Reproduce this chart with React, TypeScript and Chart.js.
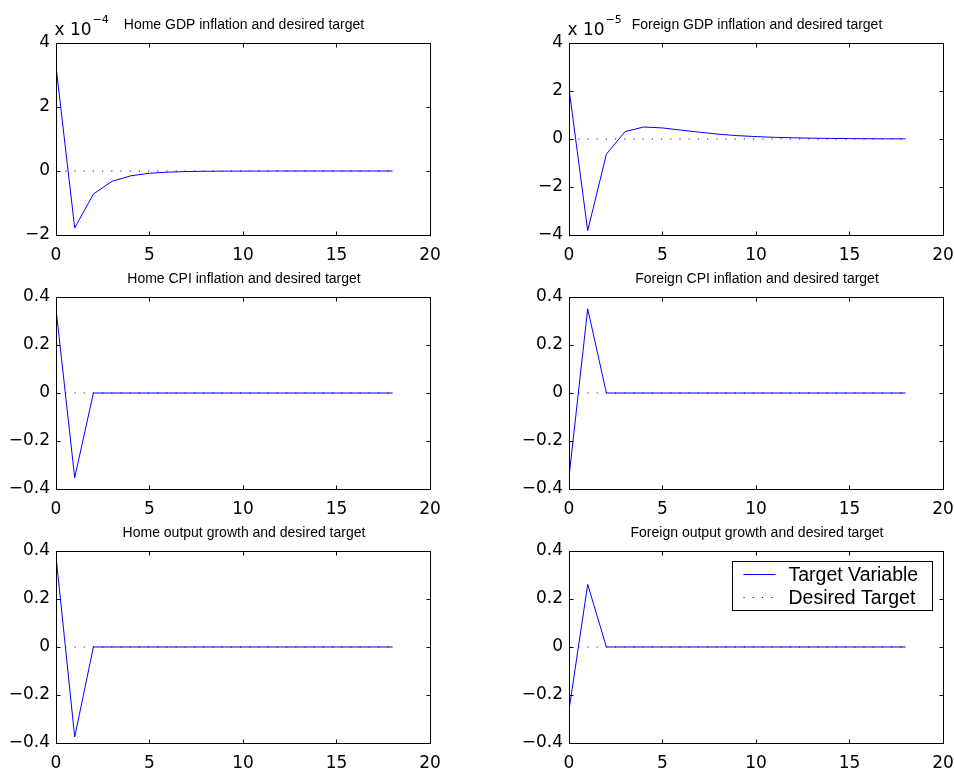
import React, { useEffect, useRef } from "react";
import { Chart, registerables } from "chart.js";

Chart.register(...registerables);

// ---------- data ----------
const periods = [0, 1, 2, 3, 4, 5, 6, 7, 8, 9, 10, 11, 12, 13, 14, 15, 16, 17, 18];
const desiredTarget = [0, 0, 0, 0, 0, 0, 0, 0, 0, 0, 0, 0, 0, 0, 0, 0, 0, 0, 0];

const homeGdpInflation = [
  3.27e-4, -1.78e-4, -0.72e-4, -0.32e-4, -0.15e-4, -0.07e-4, -0.035e-4, -0.017e-4, -0.008e-4,
  -0.004e-4, -0.002e-4, -0.001e-4, 0, 0, 0, 0, 0, 0, 0,
];
const foreignGdpInflation = [
  2.1e-5, -3.82e-5, -0.63e-5, 0.31e-5, 0.5e-5, 0.46e-5, 0.37e-5, 0.28e-5, 0.2e-5, 0.14e-5,
  0.1e-5, 0.07e-5, 0.05e-5, 0.035e-5, 0.025e-5, 0.017e-5, 0.012e-5, 0.008e-5, 0.005e-5,
];
const homeCpiInflation = [0.35, -0.353, 0, 0, 0, 0, 0, 0, 0, 0, 0, 0, 0, 0, 0, 0, 0, 0, 0];
const foreignCpiInflation = [-0.35, 0.351, 0, 0, 0, 0, 0, 0, 0, 0, 0, 0, 0, 0, 0, 0, 0, 0, 0];
const homeOutputGrowth = [0.378, -0.375, 0, 0, 0, 0, 0, 0, 0, 0, 0, 0, 0, 0, 0, 0, 0, 0, 0];
const foreignOutputGrowth = [-0.263, 0.261, 0, 0, 0, 0, 0, 0, 0, 0, 0, 0, 0, 0, 0, 0, 0, 0, 0];

const xTicks = [0, 5, 10, 15, 20];
const homeGdpTicks = [-2e-4, 0, 2e-4, 4e-4];
const foreignGdpTicks = [-4e-5, -2e-5, 0, 2e-5, 4e-5];
const unitTicks = [-0.4, -0.2, 0, 0.2, 0.4];

const seriesLabels = ["Target Variable", "Desired Target"];

// ---------- layout ----------
const W = 954;
const H = 769;
const colLeft = [56, 569];
const colRight = [430, 943];
const rowTop = [43, 297, 551];
const rowBottom = [235, 489, 743];

type Panel = {
  title: string;
  values: number[];
  ticks: number[];
  exp: number | null;
  col: number;
  row: number;
  legend: boolean;
};

const panels: Panel[] = [
  { title: "Home GDP inflation and desired target", values: homeGdpInflation, ticks: homeGdpTicks, exp: -4, col: 0, row: 0, legend: false },
  { title: "Foreign GDP inflation and desired target", values: foreignGdpInflation, ticks: foreignGdpTicks, exp: -5, col: 1, row: 0, legend: false },
  { title: "Home CPI inflation and desired target", values: homeCpiInflation, ticks: unitTicks, exp: null, col: 0, row: 1, legend: false },
  { title: "Foreign CPI inflation and desired target", values: foreignCpiInflation, ticks: unitTicks, exp: null, col: 1, row: 1, legend: false },
  { title: "Home output growth and desired target", values: homeOutputGrowth, ticks: unitTicks, exp: null, col: 0, row: 2, legend: false },
  { title: "Foreign output growth and desired target", values: foreignOutputGrowth, ticks: unitTicks, exp: null, col: 1, row: 2, legend: true },
];

const TICK_FONT = "DejaVu Sans";
const TEXT_FONT = "Liberation Sans";
const MINUS = "\u2212";

function fmtY(v: number, exp: number | null): string {
  if (exp !== null) {
    const n = Math.round(v / Math.pow(10, exp));
    return n < 0 ? MINUS + Math.abs(n) : String(n);
  }
  if (Math.abs(v) < 1e-12) return "0";
  const s = Math.abs(v).toFixed(1);
  return v < 0 ? MINUS + s : s;
}

function fmtX(v: number): string {
  return String(Math.round(v));
}

const matlabPlugin = {
  id: "matlabAxes",
  afterDatasetsDraw(chart: any, _args: any, opts: any) {
    const ctx: CanvasRenderingContext2D = chart.ctx;
    const a = chart.chartArea;
    const xs = chart.scales.x;
    const ys = chart.scales.y;
    const L = Math.floor(a.left) + 0.5;
    const R = Math.floor(a.right) + 0.5;
    const T = Math.floor(a.top) + 0.5;
    const B = Math.floor(a.bottom) + 0.5;
    ctx.save();
    ctx.strokeStyle = "#000";
    ctx.lineWidth = 1;
    ctx.setLineDash([]);
    ctx.strokeRect(L, T, R - L, B - T);
    const tl = 4;
    ctx.beginPath();
    for (const t of xs.ticks) {
      const px = Math.floor(xs.getPixelForValue(t.value)) + 0.5;
      ctx.moveTo(px, B);
      ctx.lineTo(px, B - tl);
      ctx.moveTo(px, T);
      ctx.lineTo(px, T + tl);
    }
    for (const t of ys.ticks) {
      const py = Math.floor(ys.getPixelForValue(t.value)) + 0.5;
      ctx.moveTo(L, py);
      ctx.lineTo(L + tl, py);
      ctx.moveTo(R, py);
      ctx.lineTo(R - tl, py);
    }
    ctx.stroke();

    // title
    ctx.fillStyle = "#000";
    ctx.font = `14px "${TEXT_FONT}"`;
    ctx.textAlign = "center";
    ctx.textBaseline = "alphabetic";
    ctx.fillText(opts.title, (a.left + a.right) / 2 + 1, a.top - 14);

    // exponent label
    if (opts.exp !== null && opts.exp !== undefined) {
      ctx.textAlign = "left";
      ctx.font = `17px "${TICK_FONT}"`;
      const base = "x 10";
      ctx.fillText(base, a.left - 1.5, a.top - 8);
      const w = ctx.measureText(base).width;
      ctx.font = `11px "${TICK_FONT}"`;
      const e = opts.exp < 0 ? MINUS + Math.abs(opts.exp) : String(opts.exp);
      ctx.fillText(e, a.left - 1.5 + w + 1, a.top - 20);
    }

    // legend
    if (opts.legend) {
      const bw = 200;
      const bh = 49;
      const bx = Math.floor(a.right - 10.5 - bw) + 0.5;
      const by = Math.floor(a.top + 10) + 0.5;
      ctx.fillStyle = "#fff";
      ctx.fillRect(bx, by, bw, bh);
      ctx.strokeStyle = "#000";
      ctx.strokeRect(bx, by, bw, bh);
      const rows = chart.data.datasets.map((ds: any, i: number) => ({
        label: ds.label,
        color: ds.borderColor,
        dash: ds.borderDash || [],
        y: by + 13 + i * 23,
      }));
      for (const r of rows) {
        ctx.beginPath();
        ctx.strokeStyle = r.color;
        ctx.setLineDash(r.dash);
        ctx.moveTo(bx + 11, Math.floor(r.y) + 0.5);
        ctx.lineTo(bx + 43, Math.floor(r.y) + 0.5);
        ctx.stroke();
        ctx.setLineDash([]);
        ctx.fillStyle = "#000";
        ctx.font = `19.5px "${TEXT_FONT}"`;
        ctx.textAlign = "left";
        ctx.textBaseline = "alphabetic";
        ctx.fillText(r.label, bx + 56, r.y + 6.7);
      }
    }
    ctx.restore();
  },
};

function makeChart(canvas: HTMLCanvasElement, p: Panel) {
  const left = colLeft[p.col];
  const right = colRight[p.col];
  const top = rowTop[p.row];
  const bottom = rowBottom[p.row];
  const yMin = p.ticks[0];
  const yMax = p.ticks[p.ticks.length - 1];
  return new Chart(canvas, {
    type: "line",
    data: {
      datasets: [
        {
          label: seriesLabels[0],
          data: periods.map((x, i) => ({ x, y: p.values[i] })),
          borderColor: "#0000ff",
          borderWidth: 1,
          pointRadius: 0,
          fill: false,
          tension: 0,
        },
        {
          label: seriesLabels[1],
          data: periods.map((x, i) => ({ x, y: desiredTarget[i] })),
          borderColor: "#0000ff",
          borderWidth: 1.2,
          borderDash: [1.2, 8],
          pointRadius: 0,
          fill: false,
          tension: 0,
        },
      ],
    },
    options: {
      responsive: false,
      animation: false,
      devicePixelRatio: 1,
      events: [],
      layout: { padding: { left: 0, top: top, right: W - right, bottom: 0 } },
      plugins: {
        legend: { display: false },
        tooltip: { enabled: false },
        title: { display: false },
        matlabAxes: { title: p.title, exp: p.exp, legend: p.legend },
      } as any,
      scales: {
        x: {
          type: "linear",
          min: 0,
          max: 20,
          grid: { display: false, drawTicks: false },
          border: { display: false },
          ticks: {
            padding: 10,
            color: "#000",
            font: { family: TICK_FONT, size: 17 },
            maxRotation: 0,
            callback: (v: any) => fmtX(Number(v)),
          },
          afterBuildTicks: (s: any) => {
            s.ticks = xTicks.map((v) => ({ value: v }));
          },
          afterFit: (s: any) => {
            s.height = H - bottom;
            s.paddingLeft = 0;
            s.paddingRight = 0;
          },
        },
        y: {
          type: "linear",
          min: yMin,
          max: yMax,
          grid: { display: false, drawTicks: false },
          border: { display: false },
          ticks: {
            padding: 6,
            color: "#000",
            font: { family: TICK_FONT, size: 17 },
            callback: (v: any) => fmtY(Number(v), p.exp),
          },
          afterBuildTicks: (s: any) => {
            s.ticks = p.ticks.map((v) => ({ value: v }));
          },
          afterFit: (s: any) => {
            s.width = left;
            s.paddingTop = 0;
            s.paddingBottom = 0;
          },
        },
      },
    },
    plugins: [matlabPlugin as any],
  });
}

export default function App() {
  const refs = useRef<(HTMLCanvasElement | null)[]>([]);
  useEffect(() => {
    const charts = panels.map((p, i) => makeChart(refs.current[i] as HTMLCanvasElement, p));
    return () => charts.forEach((c) => c.destroy());
  }, []);
  return (
    <div style={{ position: "absolute", left: 0, top: 0, width: W, height: H, background: "#fff" }}>
      {panels.map((p, i) => (
        <canvas
          key={i}
          ref={(el) => {
            refs.current[i] = el;
          }}
          width={W}
          height={H}
          style={{ position: "absolute", left: 0, top: 0, width: W, height: H }}
        />
      ))}
    </div>
  );
}
